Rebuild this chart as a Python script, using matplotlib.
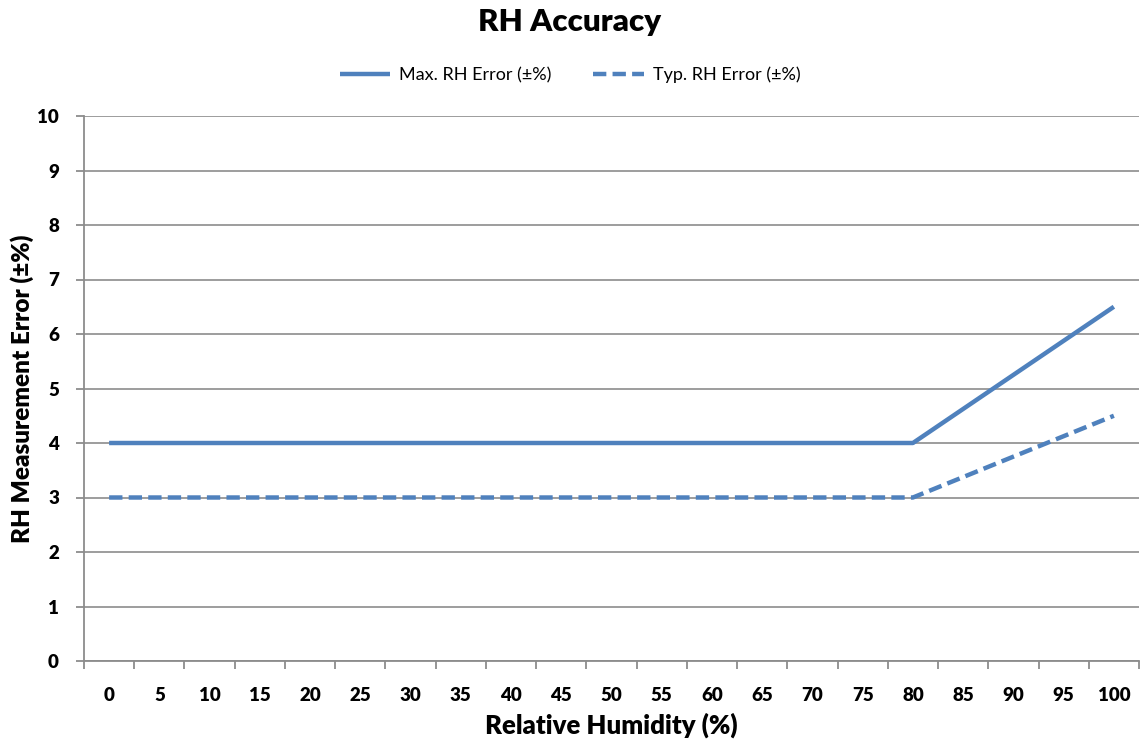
import matplotlib
matplotlib.use("Agg")
import matplotlib.pyplot as plt
import numpy as np

plt.rcParams['font.family'] = ['Lato', 'DejaVu Sans']

categories = [0, 5, 10, 15, 20, 25, 30, 35, 40, 45, 50, 55, 60, 65, 70, 75, 80, 85, 90, 95, 100]
max_err = [4, 4, 4, 4, 4, 4, 4, 4, 4, 4, 4, 4, 4, 4, 4, 4, 4, 4.625, 5.25, 5.875, 6.5]
typ_err = [3, 3, 3, 3, 3, 3, 3, 3, 3, 3, 3, 3, 3, 3, 3, 3, 3, 3.375, 3.75, 4.125, 4.5]
yticks = list(range(0, 11))

color = '#4F81BD'
grid_c = '#8C8C8C'

fig = plt.figure(figsize=(11.4, 7.48), dpi=100)
ax = fig.add_axes([84/1140, 87/748, 1055/1140, 545/748])

x = np.arange(len(categories))
ax.plot(x, max_err, color=color, lw=3.2, solid_capstyle='butt', label='Max. RH Error (±%)')
ax.plot(x, typ_err, color=color, lw=3.2, ls=(0, (3, 1.4)), dash_capstyle='butt', label='Typ. RH Error (±%)')

ax.set_xlim(-0.5, len(categories) - 0.5)
ax.set_ylim(0, 10)
ax.set_yticks(yticks)
ax.set_yticklabels([str(v) for v in yticks], fontsize=13.5, fontweight='heavy')
ax.set_xticks(x)
ax.set_xticklabels([str(c) for c in categories], fontsize=13.5, fontweight='heavy')
ax.set_xticks(np.arange(-0.5, len(categories)), minor=True)
ax.tick_params(axis='x', which='major', length=0, pad=19)
ax.tick_params(axis='x', which='minor', length=6, width=1.3, color=grid_c, direction='out')
ax.tick_params(axis='y', which='major', length=6, width=1.3, color=grid_c, direction='out', pad=12)

ax.yaxis.grid(True, color=grid_c, lw=1.2)
ax.set_axisbelow(True)
for s in ['top', 'right']:
    ax.spines[s].set_visible(False)
for s in ['left', 'bottom']:
    ax.spines[s].set_color(grid_c)
    ax.spines[s].set_linewidth(1.3)

ax.set_xlabel('Relative Humidity (%)', fontsize=18.5, fontweight='heavy', labelpad=6)
ax.set_ylabel('RH Measurement Error (±%)', fontsize=17.5, fontweight='heavy', labelpad=2)
fig.text(0.5, 1 - 22/748, 'RH Accuracy', ha='center', va='center', fontsize=22.5, fontweight='heavy')

fig.legend(loc='center', bbox_to_anchor=(0.5, 1 - 75/748), ncol=2, frameon=False,
           fontsize=13, handlelength=2.8, columnspacing=2.3, handletextpad=0.5)

fig.savefig('out.png', dpi=100, facecolor='white')
